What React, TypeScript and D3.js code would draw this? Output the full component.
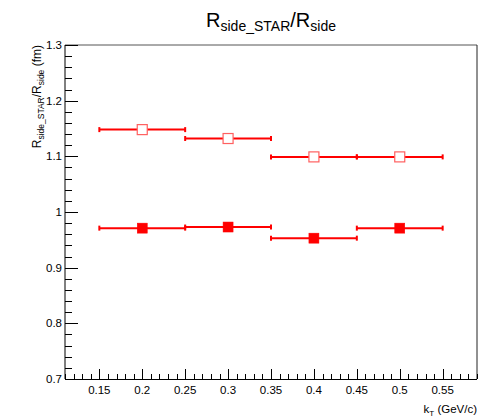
import * as d3 from 'd3';
import React from 'react';

// kT bins (GeV/c) and half widths
const kt = [0.2, 0.3, 0.4, 0.5];
const ktErr = [0.05, 0.05, 0.05, 0.05];
// open markers
const ratioOpen = [1.148, 1.132, 1.099, 1.099];
// filled markers
const ratioFilled = [0.971, 0.973, 0.953, 0.971];

const xTicks = [0.15, 0.2, 0.25, 0.3, 0.35, 0.4, 0.45, 0.5, 0.55];
const yTicks = [0.7, 0.8, 0.9, 1, 1.1, 1.2, 1.3];

const font = '"Liberation Sans", Arial, Helvetica, sans-serif';

const App = () => {
  const width = 493, height = 417;
  const margin = { top: 45, right: 16, bottom: 38, left: 65 };
  const x = d3.scaleLinear().domain([0.11, 0.59]).range([margin.left, width - margin.right]);
  const y = d3.scaleLinear().domain([0.7, 1.3]).range([height - margin.bottom, margin.top]);

  const x0 = margin.left, x1 = width - margin.right;
  const y0 = height - margin.bottom, y1 = margin.top;

  const xMinor = d3.range(0.11, 0.5901, 0.01).map(v => +v.toFixed(2));
  const yMinor = d3.range(0.7, 1.3001, 0.02).map(v => +v.toFixed(2));

  const series = [
    { vals: ratioFilled, filled: true },
    { vals: ratioOpen, filled: false },
  ];

  return (
    <svg width={width} height={height} style={{ position: 'absolute', left: 0, top: 0, background: '#fff' }}
      fontFamily={font}>
      <rect x={0} y={0} width={width} height={height} fill="#fff" />
      {/* title */}
      <text x={(x0 + x1) / 2} y={27} textAnchor="middle" fontSize={20} fill="#000">
        R<tspan fontSize={14} dy={4}>side_STAR</tspan><tspan dy={-4}>/R</tspan><tspan fontSize={14} dy={4}>side</tspan>
      </text>

      {/* frame */}
      <line x1={x0} x2={x1} y1={y1} y2={y1} stroke="#555" strokeWidth={1} />
      <line x1={x1} x2={x1} y1={y1} y2={y0} stroke="#222" strokeWidth={1} />

      {/* y axis */}
      <line x1={x0} x2={x0} y1={y1} y2={y0} stroke="#000" strokeWidth={1} />
      {yMinor.map(v => (
        <line key={'ym' + v} x1={x0} x2={x0 + 7} y1={Math.round(y(v)) + 0.5} y2={Math.round(y(v)) + 0.5} stroke="#000" />
      ))}
      {yTicks.map(v => (
        <g key={'y' + v}>
          <line x1={x0} x2={x0 + 13} y1={Math.round(y(v)) + 0.5} y2={Math.round(y(v)) + 0.5} stroke="#000" />
          <text x={x0 - 3} y={y(v) + 4} textAnchor="end" fontSize={11.5} fill="#000">{d3.format('~g')(v)}</text>
        </g>
      ))}

      {/* x axis */}
      <line x1={x0} x2={x1} y1={y0 + 0.5} y2={y0 + 0.5} stroke="#000" strokeWidth={1} />
      {xMinor.map(v => (
        <line key={'xm' + v} x1={Math.round(x(v)) + 0.5} x2={Math.round(x(v)) + 0.5} y1={y0} y2={y0 - 5} stroke="#000" />
      ))}
      {xTicks.map(v => (
        <g key={'x' + v}>
          <line x1={Math.round(x(v)) + 0.5} x2={Math.round(x(v)) + 0.5} y1={y0} y2={y0 - 10} stroke="#000" />
          <text x={x(v)} y={y0 + 15} textAnchor="middle" fontSize={11.5} fill="#000">{d3.format('~g')(v)}</text>
        </g>
      ))}

      {/* axis titles */}
      <text x={x1} y={y0 + 34} textAnchor="end" fontSize={11.5} fill="#000">
        k<tspan fontSize={8} dy={3}>T</tspan><tspan dy={-3}> (GeV/c)</tspan>
      </text>
      <text transform={`translate(41,${y1}) rotate(-90)`} textAnchor="end" fontSize={12} fill="#000">
        R<tspan fontSize={8.5} dy={3}>side_STAR</tspan><tspan dy={-3}>/R</tspan><tspan fontSize={8.5} dy={3}>side</tspan><tspan dy={-3}> (fm)</tspan>
      </text>

      {/* error bars */}
      {series.map((s, si) => kt.map((k, i) => {
        const yy = y(s.vals[i]);
        const xa = x(k - ktErr[i]), xb = x(k + ktErr[i]);
        return (
          <g key={`e${si}-${i}`} stroke="#f00">
            <line x1={xa} x2={xb} y1={yy} y2={yy} strokeWidth={2} />
            <line x1={xa} x2={xa} y1={yy - 2.5} y2={yy + 2.5} strokeWidth={2} />
            <line x1={xb} x2={xb} y1={yy - 2.5} y2={yy + 2.5} strokeWidth={2} />
          </g>
        );
      }))}

      {/* markers */}
      {series.map((s, si) => kt.map((k, i) => (
        <rect key={`m${si}-${i}`} x={x(k) - 5} y={y(s.vals[i]) - 5} width={10} height={10}
          fill={s.filled ? '#f00' : '#fff'} stroke={s.filled ? '#f00' : '#ff6060'} strokeWidth={s.filled ? 0.5 : 1.2} />
      )))}
    </svg>
  );
};

export default App;
